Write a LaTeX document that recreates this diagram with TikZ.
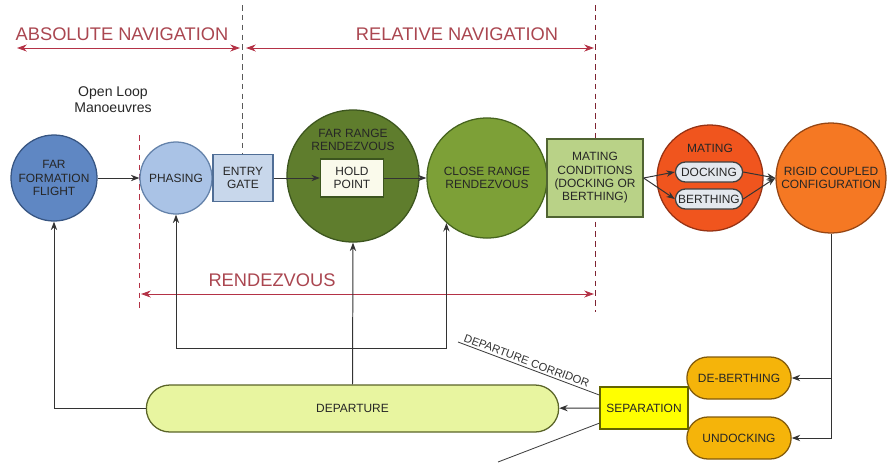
\documentclass[tikz,border=0pt]{standalone}
\usepackage{fontspec}
\setmainfont{Liberation Sans}
\usepackage{xcolor}
\usepackage{tikz}
\usetikzlibrary{shapes.geometric, shapes.misc, arrows, arrows.meta, positioning, calc}
\definecolor{fffcol}{RGB}{95,135,195}
\definecolor{fffline}{RGB}{55,85,130}
\definecolor{phasecol}{RGB}{170,195,230}
\definecolor{phaseline}{RGB}{100,130,170}
\definecolor{gatecol}{RGB}{200,215,235}
\definecolor{gateline}{RGB}{80,110,150}
\definecolor{farcol}{RGB}{95,125,45}
\definecolor{farline}{RGB}{60,85,30}
\definecolor{holdcol}{RGB}{250,250,235}
\definecolor{closecol}{RGB}{125,160,55}
\definecolor{closeline}{RGB}{70,100,30}
\definecolor{condcol}{RGB}{185,210,135}
\definecolor{condline}{RGB}{80,100,50}
\definecolor{matecol}{RGB}{240,85,30}
\definecolor{mateline}{RGB}{150,50,20}
\definecolor{dockcol}{RGB}{228,232,238}
\definecolor{rigidcol}{RGB}{245,120,35}
\definecolor{rigidline}{RGB}{150,70,20}
\definecolor{sepdcol}{RGB}{245,180,10}
\definecolor{sepdline}{RGB}{130,90,10}
\definecolor{sepcol}{RGB}{255,255,0}
\definecolor{sepline}{RGB}{100,100,0}
\definecolor{depcol}{RGB}{232,245,160}
\definecolor{depline}{RGB}{90,100,40}
\definecolor{navred}{RGB}{180,50,70}
\definecolor{navtext}{RGB}{170,70,80}
\tikzstyle{phase} = [circle, inner sep=0pt, align=center, draw, line width=0.9pt, text=black!85, font=\fontsize{8.5}{9.5}\selectfont]
\tikzstyle{block} = [rectangle, inner sep=1pt, align=center, draw, line width=0.9pt, text=black!85, font=\fontsize{8.5}{9.5}\selectfont]
\tikzstyle{pill} = [rounded rectangle, inner sep=1pt, align=center, draw, line width=0.9pt, text=black!85, font=\fontsize{8.5}{9.5}\selectfont]
\tikzstyle{arrow} = [->,>={Stealth[length=6pt,width=4.5pt]}, line width=0.7pt, black!80]
\tikzstyle{navarrow} = [<->,>={Stealth[length=7pt,width=5pt]}, line width=0.7pt, navred]
\tikzstyle{navlabel} = [text=navtext, font=\fontsize{13}{15}\selectfont]
\tikzstyle{boundary} = [dash pattern=on 4pt off 3pt, line width=0.7pt]

\begin{document}
\begin{tikzpicture}[x=0.025cm, y=-0.025cm]
\useasboundingbox (0,0) rectangle (894,462);

% phase boundaries
\draw [boundary, black!65] (242,5) -- (242,155);
\draw [boundary, navred!70!black] (595,5) -- (595,312);
\draw [boundary, navred] (139,135) -- (139,310);

% navigation labels
\node (absnav) [navlabel] at (122,34) {ABSOLUTE NAVIGATION};
\node (relnav) [navlabel] at (457,34) {RELATIVE NAVIGATION};
\node (rdvlabel) [navlabel] at (272,280) {RENDEZVOUS};
\coordinate (absL) at (17,48);
\coordinate (absR) at (240,48);
\coordinate (relL) at (246,48);
\coordinate (relR) at (594,48);
\coordinate (rdvL) at (141,294);
\coordinate (rdvR) at (594,294);
\draw [navarrow] (absL) -- (absR);
\draw [navarrow] (relL) -- (relR);
\draw [navarrow] (rdvL) -- (rdvR);

\node (openloop) [align=center, text=black!85, font=\fontsize{10}{11.5}\selectfont] at (113,100) {Open Loop\\Manoeuvres};

% phases
\node (fff) [phase, fill=fffcol, draw=fffline, minimum size=2.15cm] at (54,178) {FAR\\FORMATION\\FLIGHT};
\node (phasing) [phase, fill=phasecol, draw=phaseline, minimum size=1.8cm] at (176,178) {PHASING};
\node (gate) [block, fill=gatecol, draw=gateline, minimum width=1.5cm, minimum height=1.175cm] at (243,178) {ENTRY\\GATE};
\node (far) [phase, fill=farcol, draw=farline, minimum size=3.3cm] at (353,176) {};
\node (farlabel) [align=center, text=black!85, font=\fontsize{8.5}{9.5}\selectfont] at (353,140) {FAR RANGE\\RENDEZVOUS};
\node (hold) [block, fill=holdcol, draw=farline, minimum width=1.575cm, minimum height=0.95cm] at (352,178) {HOLD\\POINT};
\node (close) [phase, fill=closecol, draw=closeline, minimum size=3cm] at (487,178) {CLOSE RANGE\\RENDEZVOUS};
\node (cond) [block, fill=condcol, draw=condline, minimum width=2.4cm, minimum height=1.95cm] at (595,178) {MATING\\CONDITIONS\\(DOCKING OR\\BERTHING)};
\node (mating) [phase, fill=matecol, draw=mateline, minimum size=2.65cm] at (710,178) {};
\node (matelabel) [text=black!85, font=\fontsize{8.5}{9.5}\selectfont] at (710,148) {MATING};
\node (docking) [pill, fill=dockcol, draw=black!75, minimum width=1.75cm, minimum height=0.5cm] at (709,172) {DOCKING};
\node (berthing) [pill, fill=dockcol, draw=black!75, minimum width=1.75cm, minimum height=0.5cm] at (709,199) {BERTHING};
\node (rigid) [phase, fill=rigidcol, draw=rigidline, minimum size=2.75cm] at (831,178) {RIGID COUPLED\\CONFIGURATION};
\node (deberth) [pill, fill=sepdcol, draw=sepdline, minimum width=2.675cm, minimum height=1.05cm] at (739,378) {DE-BERTHING};
\node (undock) [pill, fill=sepdcol, draw=sepdline, minimum width=2.675cm, minimum height=1.05cm] at (739,438) {UNDOCKING};
\node (sep) [block, fill=sepcol, draw=sepline, minimum width=2.2cm, minimum height=1.05cm] at (644,408) {SEPARATION};
\node (dep) [pill, fill=depcol, draw=depline, minimum width=10.375cm, minimum height=1.175cm] at (352.5,408.5) {DEPARTURE};

% departure corridor
\coordinate (corrA) at (458,342);
\coordinate (corrB) at (498,462);
\draw [black!75, line width=0.6pt] (corrA) -- node [sloped, above, pos=0.47, inner sep=1.5pt, text=black!80, font=\fontsize{8}{9}\selectfont] {DEPARTURE CORRIDOR} ($(sep.north west)!0.2!(sep.south west)$);
\draw [black!75, line width=0.6pt] ($(sep.north west)!0.85!(sep.south west)$) -- (corrB);

% flow
\coordinate (loop) at (0,348);
\draw [arrow] (fff) -- (phasing);
\draw [arrow] (gate) -- (hold);
\draw [arrow] (hold) -- (close);
\draw [arrow] (cond.east) -- (docking.west);
\draw [arrow] (cond.east) -- (berthing.west);
\draw [arrow] (docking.east) -- (rigid.west);
\draw [arrow] (berthing.east) -- (rigid.west);
\draw [arrow] (rigid.south) |- (undock.east);
\draw [arrow] (rigid.south |- deberth) -- (deberth.east);
\draw [arrow] (sep) -- (dep);
\draw [arrow] (dep.west) -| (fff.south);
\draw [arrow] (dep.north) -- (far.south);
\draw [arrow] (dep.north |- loop) -| (phasing.south);
\draw [arrow] (dep.north |- loop) -| (close.228);
\end{tikzpicture}
\end{document}
